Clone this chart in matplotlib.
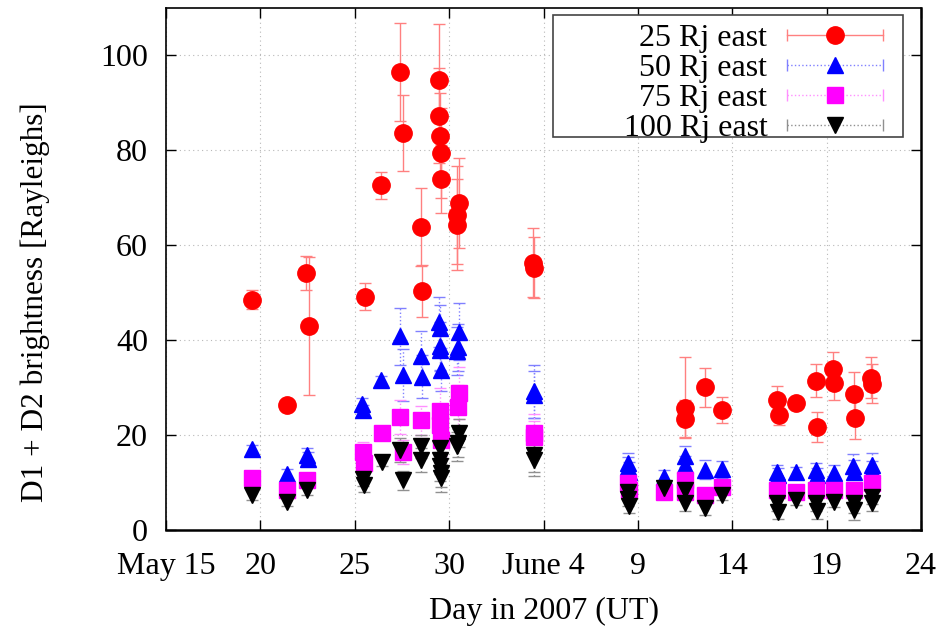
import matplotlib
matplotlib.use('Agg')
import matplotlib.pyplot as plt
from matplotlib.lines import Line2D
from matplotlib.legend_handler import HandlerBase
from matplotlib.patches import Rectangle

plt.rcParams['font.family'] = ['Liberation Serif', 'DejaVu Serif']

# ---------------- data (days after May 15, 2007) ----------------
x_ticks = [0, 5, 10, 15, 20, 25, 30, 35, 40]
x_tick_labels = ['May 15', '20', '25', '30', 'June 4', '9', '14', '19', '24']
y_ticks = [0, 20, 40, 60, 80, 100]

days_25 = [4.55, 6.42, 7.42, 7.55, 10.55, 11.39, 12.38, 12.58, 13.51, 13.56,
           14.45, 14.48, 14.52, 14.56, 14.59, 15.53, 15.40, 15.44, 19.46, 19.48,
           27.47, 27.52, 28.53, 29.45, 32.36, 32.50, 33.37, 34.45, 34.51, 35.33,
           35.37, 36.43, 36.51, 37.36, 37.43]
vals_25 = [48.5, 26.4, 54.2, 43.0, 49.2, 72.6, 96.5, 83.7, 63.8, 50.4,
           94.8, 87.3, 83.0, 79.5, 74.0, 68.9, 66.4, 64.3, 56.3, 55.3,
           25.7, 23.4, 30.1, 25.3, 27.3, 24.3, 26.7, 31.5, 21.7, 33.9,
           30.9, 28.6, 23.7, 32.1, 30.8]
errlo_25 = [2.0, 0.6, 3.6, 14.5, 2.8, 2.9, 10.4, 8.0, 8.2, 5.5,
            11.9, 10.0, 9.0, 9.5, 7.2, 9.4, 10.4, 9.6, 7.3, 6.5,
            6.0, 4.0, 4.1, 2.8, 3.1, 2.2, 1.0, 3.5, 3.1, 3.7,
            3.5, 4.7, 4.6, 4.3, 4.1]
errhi_25 = [2.0, 0.6, 3.6, 14.5, 2.8, 2.9, 10.4, 8.0, 8.2, 5.5,
            11.9, 10.0, 9.0, 9.5, 7.2, 9.4, 10.4, 9.6, 7.3, 6.5,
            10.7, 4.0, 4.1, 2.8, 3.1, 2.2, 1.0, 3.5, 3.1, 3.7,
            3.5, 4.7, 4.6, 4.3, 4.1]

days_50 = [4.54, 6.43, 7.49, 7.52, 10.40, 10.46, 11.39, 12.40, 12.58, 13.51,
           13.55, 14.48, 14.50, 14.52, 14.54, 14.58, 15.53, 15.48, 15.44, 19.47,
           19.49, 24.48, 24.50, 24.52, 26.41, 27.47, 27.52, 28.53, 29.45, 32.36,
           32.40, 33.37, 34.45, 34.50, 35.37, 36.39, 36.43, 37.40, 37.43]
vals_50 = [17.0, 11.8, 15.8, 14.9, 26.6, 25.2, 31.6, 40.8, 32.7, 36.6,
           32.3, 43.9, 42.5, 38.8, 38.0, 33.8, 41.8, 38.5, 37.7, 29.2,
           28.5, 14.2, 13.3, 12.3, 11.2, 15.5, 13.7, 12.7, 12.8, 12.3,
           11.5, 12.3, 12.7, 11.6, 12.1, 13.5, 12.3, 13.7, 12.6]
err_50 = [1.0, 1.0, 1.5, 1.5, 1.2, 1.2, 0.8, 6.0, 5.5, 5.4,
          4.5, 5.3, 5.0, 5.0, 4.5, 4.5, 6.0, 5.0, 5.0, 5.6,
          5.0, 2.0, 2.0, 2.0, 1.5, 2.2, 2.0, 2.0, 1.8, 1.5,
          1.5, 1.0, 1.5, 1.5, 1.5, 2.5, 2.5, 2.5, 2.0]

days_75 = [4.54, 6.43, 7.49, 10.46, 10.50, 11.43, 12.40, 12.58, 13.51, 14.52,
           14.50, 14.55, 15.54, 15.46, 19.47, 19.49, 24.48, 24.52, 26.41, 27.47,
           27.50, 28.53, 29.45, 32.36, 33.37, 34.45, 35.37, 36.43, 37.40]
vals_75 = [10.9, 8.4, 10.5, 16.5, 14.2, 20.5, 23.8, 16.5, 23.1, 25.0,
           22.2, 19.0, 28.8, 26.0, 20.5, 19.5, 10.0, 8.5, 8.1, 10.5,
           8.1, 7.4, 9.1, 8.4, 8.1, 8.4, 8.4, 8.4, 9.8]
err_75 = [1.0, 1.0, 1.2, 2.0, 2.0, 1.0, 3.5, 2.5, 3.0, 5.0,
          4.0, 3.5, 5.5, 4.5, 4.0, 3.5, 1.5, 1.5, 1.0, 1.5,
          1.5, 1.5, 1.0, 1.5, 1.0, 1.5, 1.2, 1.5, 1.5]

days_100 = [4.54, 6.43, 7.49, 10.46, 10.50, 11.43, 12.40, 12.58, 13.51, 13.53,
            14.52, 14.50, 14.54, 14.56, 14.58, 15.54, 15.48, 15.44, 19.47, 19.49,
            24.48, 24.50, 24.52, 26.41, 27.47, 27.52, 28.53, 29.45, 32.36, 32.45,
            33.37, 34.45, 34.50, 35.37, 36.43, 36.47, 37.40, 37.43]
vals_100 = [7.4, 6.0, 8.5, 10.8, 9.5, 14.4, 16.9, 10.5, 17.6, 14.8,
            17.2, 14.8, 13.4, 12.0, 11.0, 20.4, 18.3, 17.6, 15.8, 14.8,
            8.0, 6.5, 5.0, 8.8, 8.4, 5.6, 4.6, 7.4, 5.6, 3.8,
            6.3, 5.6, 3.9, 6.0, 5.6, 4.2, 7.0, 5.6]
err_100 = [1.0, 1.0, 1.2, 1.5, 1.5, 1.0, 2.5, 2.0, 2.5, 2.5,
           3.0, 3.0, 3.0, 3.0, 3.0, 3.0, 3.0, 3.0, 3.5, 3.5,
           1.5, 1.5, 1.5, 1.0, 1.5, 1.5, 1.5, 1.0, 1.5, 1.5,
           1.0, 1.5, 1.5, 1.2, 2.0, 2.0, 1.5, 1.5]

labels = ['25 Rj east', '50 Rj east', '75 Rj east', '100 Rj east']

# ---------------- figure ----------------
FS = 23
fig = plt.figure(figsize=(9.45, 6.27), dpi=100)
ax = fig.add_axes([0.1757, 0.1547, 0.7989, 0.8325])

styles = [
    dict(marker='o', color='#ff0000', ecolor='#ff8080', ls='-', ms=12.5),
    dict(marker='^', color='#0000ff', ecolor='#8080ff', ls=':', ms=12),
    dict(marker='s', color='#ff00ff', ecolor='#ff90ff', ls=':', ms=12),
    dict(marker='v', color='#000000', ecolor='#909090', ls=':', ms=11.5),
]

series = [
    (days_25, vals_25, [errlo_25, errhi_25]),
    (days_50, vals_50, err_50),
    (days_75, vals_75, err_75),
    (days_100, vals_100, err_100),
]

for (xd, yd, ye), st in zip(series, styles):
    cont = ax.errorbar(xd, yd, yerr=ye, fmt=st['marker'], color=st['color'],
                       mfc=st['color'], mec=st['color'], ms=st['ms'],
                       ecolor=st['ecolor'], elinewidth=1.0, capsize=4,
                       capthick=1.0, ls='none', zorder=3)
    for bl in cont[2]:
        bl.set_linestyle(st['ls'])

ax.set_xlim(0, 40)
ax.set_ylim(0, 110)
ax.set_xticks(x_ticks)
ax.set_xticklabels(x_tick_labels)
ax.set_yticks(y_ticks)
ax.tick_params(direction='in', length=7, width=1.0, top=True, right=True,
               labelsize=FS)
ax.tick_params(axis='y', pad=13)
ax.tick_params(axis='x', pad=16)
ax.grid(True, color='#b8b8b8', ls=(0, (1, 3)), lw=0.8)
ax.set_axisbelow(True)
for s in ax.spines.values():
    s.set_linewidth(1.2)
ax.spines['bottom'].set_linewidth(1.8)
ax.spines['right'].set_linewidth(1.8)

ax.set_xlabel('Day in 2007 (UT)', fontsize=FS, labelpad=11)
ax.set_ylabel('D1 + D2 brightness [Rayleighs]', fontsize=FS - 0.5)
ax.yaxis.set_label_coords(-0.154, 0.437)


# ---------------- legend (gnuplot style) ----------------
class GnuHandler(HandlerBase):
    def __init__(self, st):
        super().__init__()
        self.st = st

    def create_artists(self, legend, orig_handle, xdescent, ydescent,
                       width, height, fontsize, trans):
        st = self.st
        y = height / 2 - ydescent
        x0, x1 = -xdescent, -xdescent + width
        line = Line2D([x0, x1], [y, y], color=st['ecolor'], ls=st['ls'], lw=1.0)
        caps = Line2D([x0, x1], [y, y], color=st['ecolor'], ls='none',
                      marker='|', ms=8, mew=1.0)
        mk = Line2D([(x0 + x1) / 2], [y], ls='none', marker=st['marker'],
                    color=st['color'], ms=st['ms'])
        for a in (line, caps, mk):
            a.set_transform(trans)
        return [line, caps, mk]


handles = [Line2D([], []) for _ in labels]
handler_map = {h: GnuHandler(st) for h, st in zip(handles, styles)}
leg = ax.legend(handles, labels, handler_map=handler_map, loc='upper right',
                bbox_to_anchor=(0.9497, 0.970), bbox_transform=ax.transAxes,
                frameon=False, markerfirst=False, fontsize=FS,
                handlelength=3.0, handletextpad=0.62, labelspacing=0.02,
                borderpad=0, borderaxespad=0)
leg.set_zorder(6)

box = Rectangle((0.5126, 0.7529), 0.9762 - 0.5126, 0.9866 - 0.7529,
                transform=ax.transAxes, facecolor='white', edgecolor='#444444',
                lw=1.2, zorder=5)
ax.add_patch(box)

fig.savefig('out.png', dpi=100)
